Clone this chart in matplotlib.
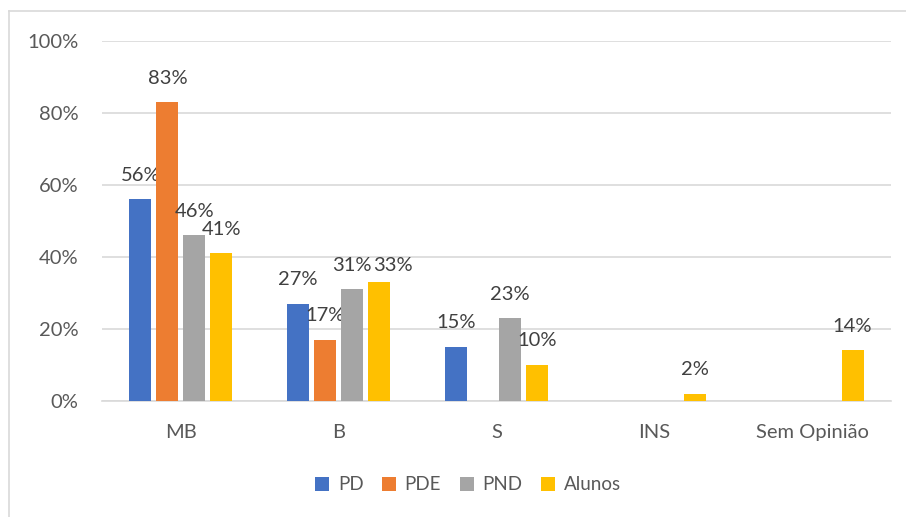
import numpy as np
import matplotlib
matplotlib.use("Agg")
import matplotlib.pyplot as plt
from matplotlib.lines import Line2D
from matplotlib.ticker import FuncFormatter

plt.rcParams['font.family'] = ['Lato', 'DejaVu Sans']

categories = ["MB", "B", "S", "INS", "Sem Opinião"]
series = ["PD", "PDE", "PND", "Alunos"]
pd_vals = [56, 27, 15, 0, 0]
pde_vals = [83, 17, 0, 0, 0]
pnd_vals = [46, 31, 23, 0, 0]
alunos_vals = [41, 33, 10, 2, 14]
colors = ["#4472C4", "#ED7D31", "#A5A5A5", "#FFC000"]

values = [pd_vals, pde_vals, pnd_vals, alunos_vals]

# label nudged (as Excel does) to avoid overlap: (series idx, cat idx) -> (dx, dy) points
label_nudge = {(3, 1): (10, 6)}

fig = plt.figure(figsize=(9.06, 5.17), dpi=100)
ax = fig.add_axes([102/906, 1 - 400.7/517, (891-102)/906, (400.7-40.7)/517])

x = np.arange(len(categories))
slot = 0.171
width = 0.14
for i, (name, vals, col) in enumerate(zip(series, values, colors)):
    pos = x + (i - 1.5) * slot
    v = np.array(vals) / 100.0
    ax.bar(pos, v, width=width, color=col, label=name, zorder=3)
    for j, (px, py) in enumerate(zip(pos, v)):
        if py > 0:
            dx, dy = label_nudge.get((i, j), (0, 11))
            ax.annotate(f"{int(round(py*100))}%", (px, py), xytext=(dx, dy),
                        textcoords="offset points", ha="center", va="bottom",
                        fontsize=14.5, color="#404040")

ax.set_xlim(-0.5, len(categories) - 0.5)
ax.set_ylim(0, 1)
ax.set_yticks(np.arange(0, 1.01, 0.2))
ax.yaxis.set_major_formatter(FuncFormatter(lambda v, p: f"{int(round(v*100))}%"))
ax.set_xticks(x)
ax.set_xticklabels(categories)
ax.tick_params(axis="both", length=0, labelsize=14.5, colors="#595959")
ax.tick_params(axis="y", pad=17)
ax.tick_params(axis="x", pad=17)
ax.grid(axis="y", color="#D9D9D9", linewidth=1.2, zorder=0)
for s in ["top", "right", "left"]:
    ax.spines[s].set_visible(False)
ax.spines["bottom"].set_color("#D9D9D9")
ax.spines["bottom"].set_linewidth(1.2)

leg = fig.legend(loc="center", bbox_to_anchor=(468/906, 1 - 485/517), ncol=4,
                 frameon=False, fontsize=13.5, handlelength=0.75, handleheight=0.75,
                 handletextpad=0.45, columnspacing=1.0)
for t in leg.get_texts():
    t.set_color("#595959")

# chart border (top and left edges visible)
fig.add_artist(Line2D([8.5/906, 8.5/906], [0, 1 - 11/517], transform=fig.transFigure,
                      color="#D9D9D9", linewidth=1.2))
fig.add_artist(Line2D([8.5/906, 1], [1 - 11/517, 1 - 11/517], transform=fig.transFigure,
                      color="#D9D9D9", linewidth=1.2))

fig.savefig("out.png", dpi=100)
